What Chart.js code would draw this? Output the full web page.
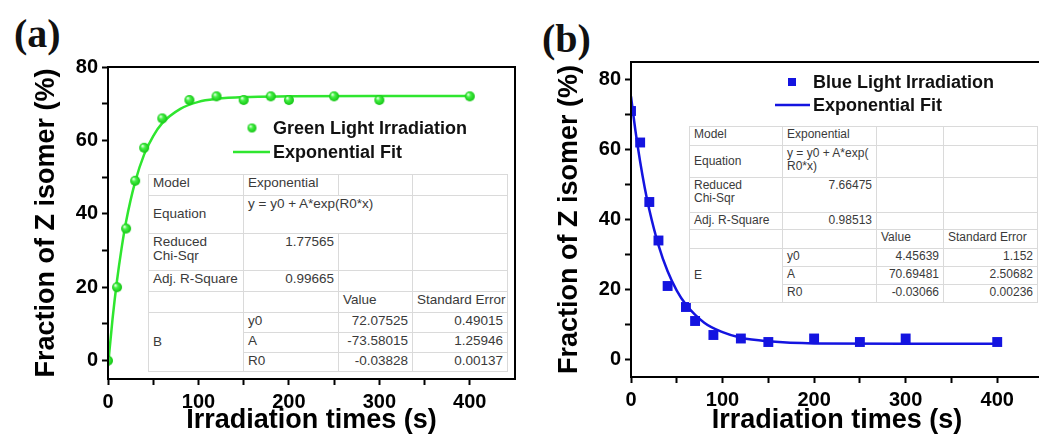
<!DOCTYPE html>
<html>
<head>
<meta charset="utf-8">
<script src="https://cdn.jsdelivr.net/npm/chart.js@4/dist/chart.umd.min.js"></script>
<style>
  body { margin: 0; width: 1039px; height: 437px; overflow: hidden; background: #fff; position: relative; font-family: "Liberation Sans", Arial, sans-serif; }
  .panel { position: absolute; top: 0; height: 437px; }
  .tag { position: absolute; font: bold 40px/1 "Liberation Serif", serif; color: #111; }
  table.fit { position: absolute; border-collapse: collapse; table-layout: fixed; background: #fff; color: #3a3a3a; border: 1.5px solid #9a9a9a; }
  table.fit td { border: 1px solid #dadada; padding: 1px 4px; vertical-align: top; line-height: 1.05; white-space: nowrap; overflow: visible; }
  table.fit td.r { text-align: right; }
  table.fit td.m { vertical-align: middle; }
  #tabA { left: 148px; top: 174px; width: 359px; font-size: 13.5px; }
  #tabB { left: 689px; top: 126px; width: 348px; font-size: 12px; }
</style>
</head>
<body>
<div class="tag" style="left:14px;top:14px">(a)</div>
<div class="tag" style="left:542px;top:19px">(b)</div>

<div class="panel" style="left:0;width:520px"><canvas id="chartA" width="520" height="437"></canvas></div>
<div class="panel" style="left:520px;width:530px"><canvas id="chartB" width="530" height="437"></canvas></div>

<table class="fit" id="tabA">
  <colgroup><col style="width:95px"><col style="width:95px"><col style="width:74px"><col style="width:95px"></colgroup>
  <tr style="height:21px"><td>Model</td><td>Exponential</td><td></td><td></td></tr>
  <tr style="height:38px"><td class="m">Equation</td><td colspan="2">y = y0 + A*exp(R0*x)</td><td></td></tr>
  <tr style="height:37px"><td>Reduced<br>Chi-Sqr</td><td class="r">1.77565</td><td></td><td></td></tr>
  <tr style="height:21px"><td>Adj. R-Square</td><td class="r">0.99665</td><td></td><td></td></tr>
  <tr style="height:21px"><td></td><td></td><td>Value</td><td>Standard Error</td></tr>
  <tr style="height:20px"><td class="m" rowspan="3">B</td><td>y0</td><td class="r">72.07525</td><td class="r">0.49015</td></tr>
  <tr style="height:20px"><td>A</td><td class="r">-73.58015</td><td class="r">1.25946</td></tr>
  <tr style="height:19px"><td>R0</td><td class="r">-0.03828</td><td class="r">0.00137</td></tr>
</table>

<table class="fit" id="tabB">
  <colgroup><col style="width:93px"><col style="width:94px"><col style="width:67px"><col style="width:94px"></colgroup>
  <tr style="height:19px"><td>Model</td><td>Exponential</td><td></td><td></td></tr>
  <tr style="height:32px"><td class="m">Equation</td><td>y = y0 + A*exp(<br>R0*x)</td><td></td><td></td></tr>
  <tr style="height:35px"><td>Reduced<br>Chi-Sqr</td><td class="r">7.66475</td><td></td><td></td></tr>
  <tr style="height:17px"><td>Adj. R-Square</td><td class="r">0.98513</td><td></td><td></td></tr>
  <tr style="height:19px"><td></td><td></td><td>Value</td><td>Standard Error</td></tr>
  <tr style="height:18px"><td class="m" rowspan="3">E</td><td>y0</td><td class="r">4.45639</td><td class="r">1.152</td></tr>
  <tr style="height:18px"><td>A</td><td class="r">70.69481</td><td class="r">2.50682</td></tr>
  <tr style="height:18px"><td>R0</td><td class="r">-0.03066</td><td class="r">0.00236</td></tr>
</table>

<script>
const timesA = [0, 10, 20, 30, 40, 60, 90, 120, 150, 180, 200, 250, 300, 400];
const greenZ = [0, 20, 36, 49, 58, 66, 71, 72, 71, 72, 71, 72, 71, 72];
const timesB = [0, 10, 20, 30, 40, 60, 70, 90, 120, 150, 200, 250, 300, 400];
const blueZ = [71, 62, 45, 34, 21, 15, 11, 7, 6, 5, 6, 5, 6, 5];

// fitted curves, sampled from the drawn lines
const fitTimes = [0, 5, 10, 15, 20, 30, 40, 50, 60, 80, 100, 120, 150, 200, 300, 400];
const greenFit = [-1.5, 11.3, 21.9, 30.6, 37.9, 48.7, 56.2, 61.2, 64.7, 68.6, 70.5, 71.3, 71.8, 72.0, 72.1, 72.1];
const blueFit = [75.2, 65.1, 56.5, 49.1, 42.8, 32.7, 25.2, 19.7, 15.7, 10.5, 7.8, 6.2, 5.2, 4.6, 4.5, 4.5];

// tick marks (major + minor) and the ones that carry a label
const xTickMarks = [0, 50, 100, 150, 200, 250, 300, 350, 400];
const xTickLabels = [0, 100, 200, 300, 400];
const yTickMarks = [0, 10, 20, 30, 40, 50, 60, 70, 80];
const yTickLabels = [0, 20, 40, 60, 80];

const GREEN = "#2fe62f";
const BLUE = "#1414e0";

const toXY = (xs, ys) => xs.map((x, i) => ({ x: x, y: ys[i] }));

function sphere(r) {
  const c = document.createElement("canvas");
  c.width = c.height = 2 * r + 2;
  const g = c.getContext("2d");
  const m = r + 1;
  const grd = g.createRadialGradient(m - r * 0.35, m - r * 0.4, r * 0.1, m, m, r);
  grd.addColorStop(0, "#dcffdc");
  grd.addColorStop(0.35, "#45f045");
  grd.addColorStop(1, "#12c412");
  g.fillStyle = grd;
  g.beginPath();
  g.arc(m, m, r, 0, Math.PI * 2);
  g.fill();
  return c;
}

// box around the plot, axis titles, inset legend
const decor = {
  id: "decor",
  afterDraw(chart, args, o) {
    const ctx = chart.ctx;
    const a = chart.chartArea;
    ctx.save();
    ctx.strokeStyle = "#000";
    ctx.lineWidth = 2;
    ctx.strokeRect(a.left, a.top, a.right - a.left, a.bottom - a.top);

    ctx.fillStyle = "#000";
    ctx.font = 'bold 27px "Liberation Sans", Arial, sans-serif';
    ctx.textAlign = "center";
    ctx.textBaseline = "middle";
    ctx.fillText("Irradiation times (s)", (a.left + a.right) / 2, o.xTitleY);
    ctx.save();
    ctx.translate(o.yTitleX, (a.top + a.bottom) / 2);
    ctx.rotate(-Math.PI / 2);
    ctx.fillText("Fraction of Z isomer (%)", 0, 0);
    ctx.restore();

    // legend
    ctx.font = 'bold 18px "Liberation Sans", Arial, sans-serif';
    ctx.textAlign = "left";
    const ds = chart.data.datasets;
    ds.forEach((d, i) => {
      const y = o.legendY + i * o.legendGap;
      if (d.showLine) {
        ctx.strokeStyle = d.borderColor;
        ctx.lineWidth = 2.5;
        ctx.beginPath();
        ctx.moveTo(o.lineX1, y);
        ctx.lineTo(o.lineX2, y);
        ctx.stroke();
      } else if (d.pointStyle === "rect") {
        ctx.fillStyle = d.backgroundColor;
        ctx.fillRect(o.markerX - 4, y - 4, 8, 8);
      } else {
        ctx.drawImage(o.legendMarker, o.markerX - o.legendMarker.width / 2, y - o.legendMarker.height / 2);
      }
      ctx.fillStyle = "#111";
      ctx.fillText(d.label, o.textX, y + 1);
    });
    ctx.restore();
  }
};

function scales(yMin, yMax, yWidth, xHeight) {
  const tickFont = { family: '"Liberation Sans", Arial, sans-serif', size: 20, weight: "bold" };
  return {
    x: {
      type: "linear",
      min: 0,
      max: 450,
      border: { color: "#000", width: 2 },
      grid: { drawOnChartArea: false, tickLength: 6, color: "#000", tickWidth: 2 },
      ticks: {
        color: "#000",
        font: tickFont,
        padding: 5,
        maxRotation: 0,
        autoSkip: false,
        callback: v => (xTickLabels.includes(v) ? String(v) : "")
      },
      afterBuildTicks: s => { s.ticks = xTickMarks.map(v => ({ value: v })); },
      afterFit: s => { s.height = xHeight; }
    },
    y: {
      type: "linear",
      min: yMin,
      max: yMax,
      border: { color: "#000", width: 2 },
      grid: { drawOnChartArea: false, tickLength: 6, color: "#000", tickWidth: 2 },
      ticks: {
        color: "#000",
        font: tickFont,
        padding: 4,
        autoSkip: false,
        callback: v => (yTickLabels.includes(v) ? String(v) : "")
      },
      afterBuildTicks: s => { s.ticks = yTickMarks.map(v => ({ value: v })); },
      afterFit: s => { s.width = yWidth; }
    }
  };
}

const commonOpts = {
  responsive: false,
  animation: false,
  events: [],
  plugins: { legend: { display: false }, tooltip: { enabled: false } }
};

new Chart(document.getElementById("chartA"), {
  type: "scatter",
  data: {
    datasets: [
      {
        label: "Green Light Irradiation",
        data: toXY(timesA, greenZ),
        pointStyle: sphere(5),
        backgroundColor: GREEN,
        showLine: false,
        order: 0
      },
      {
        label: "Exponential Fit",
        data: toXY(fitTimes, greenFit),
        showLine: true,
        borderColor: GREEN,
        borderWidth: 2.5,
        pointRadius: 0,
        cubicInterpolationMode: "monotone",
        order: 1
      }
    ]
  },
  options: {
    ...commonOpts,
    layout: { padding: { top: 67, right: 1, left: 0, bottom: 0 } },
    scales: scales(-5, 80, 108, 58),
    plugins: {
      ...commonOpts.plugins,
      decor: { xTitleY: 421, yTitleX: 47, legendY: 128, legendGap: 24, markerX: 252, lineX1: 233, lineX2: 270, textX: 273, legendMarker: sphere(4.5) }
    }
  },
  plugins: [decor]
});

new Chart(document.getElementById("chartB"), {
  type: "scatter",
  data: {
    datasets: [
      {
        label: "Blue Light Irradiation",
        data: toXY(timesB, blueZ),
        pointStyle: "rect",
        pointRadius: 7,
        backgroundColor: BLUE,
        borderColor: BLUE,
        borderWidth: 0,
        showLine: false,
        order: 0
      },
      {
        label: "Exponential Fit",
        data: toXY(fitTimes, blueFit),
        showLine: true,
        borderColor: BLUE,
        borderWidth: 2.5,
        pointRadius: 0,
        cubicInterpolationMode: "monotone",
        order: 1
      }
    ]
  },
  options: {
    ...commonOpts,
    layout: { padding: { top: 62, right: 5, left: 0, bottom: 0 } },
    scales: scales(-5, 85, 111, 60),
    plugins: {
      ...commonOpts.plugins,
      decor: { xTitleY: 421, yTitleX: 50, legendY: 82, legendGap: 23, markerX: 272, lineX1: 255, lineX2: 290, textX: 293 }
    }
  },
  plugins: [decor]
});
</script>
</body>
</html>
